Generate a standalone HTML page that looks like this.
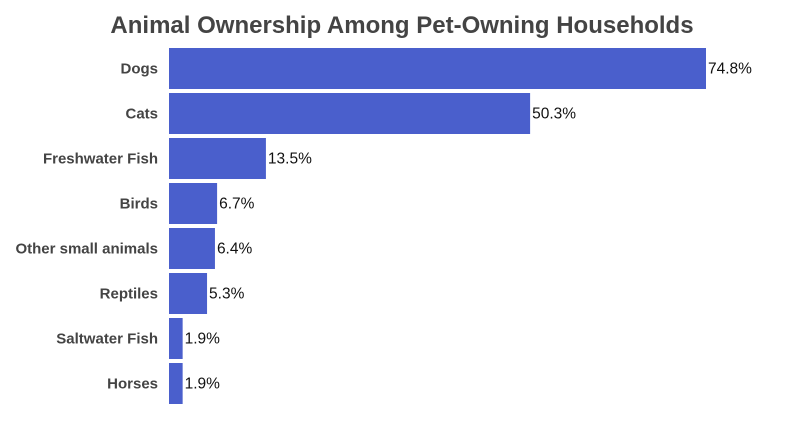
<!DOCTYPE html>
<html><head><meta charset="utf-8"><style>
html,body{margin:0;padding:0;background:#fff;}
svg{display:block;font-family:"Liberation Sans",Arial,sans-serif;}
</style></head><body>
<svg id="chart" width="800" height="421">
<text x="402" y="33" text-anchor="middle" font-size="24" font-weight="bold" fill="#444">Animal Ownership Among Pet-Owning Households</text>
<g id="bars"></g>
</svg>
<script>
const categories = ["Dogs","Cats","Freshwater Fish","Birds","Other small animals","Reptiles","Saltwater Fish","Horses"];
const values = [74.8,50.3,13.5,6.7,6.4,5.3,1.9,1.9];
const valueLabels = ["74.8%","50.3%","13.5%","6.7%","6.4%","5.3%","1.9%","1.9%"];
const x0 = 169, pxPer = (706-169)/74.8, rowTop = 46, rowH = 45, barH = 41;
const xScale = v => x0 + v*pxPer;
const yScale = i => rowTop + i*rowH;
const g = document.getElementById('bars');
const NS = "http://www.w3.org/2000/svg";
categories.forEach((c,i)=>{
  const y = yScale(i);
  const r = document.createElementNS(NS,'rect');
  r.setAttribute('x',x0); r.setAttribute('y',y+2);
  r.setAttribute('width',xScale(values[i])-x0); r.setAttribute('height',barH);
  r.setAttribute('fill','#4a5fcc');
  
  
  g.appendChild(r);
  const t = document.createElementNS(NS,'text');
  t.setAttribute('x',158); t.setAttribute('y',y+2+barH/2+5);
  t.setAttribute('text-anchor','end'); t.setAttribute('font-size','15');
  t.setAttribute('font-weight','bold'); t.setAttribute('fill','#444');
  t.textContent = c;
  
  
  g.appendChild(t);
  const v = document.createElementNS(NS,'text');
  v.setAttribute('x',xScale(values[i])+2); v.setAttribute('y',y+2+barH/2+5);
  v.setAttribute('font-size','15.5'); v.setAttribute('fill','#111');
  v.textContent = valueLabels[i];
  
  
  g.appendChild(v);
});
</script>
</body></html>
